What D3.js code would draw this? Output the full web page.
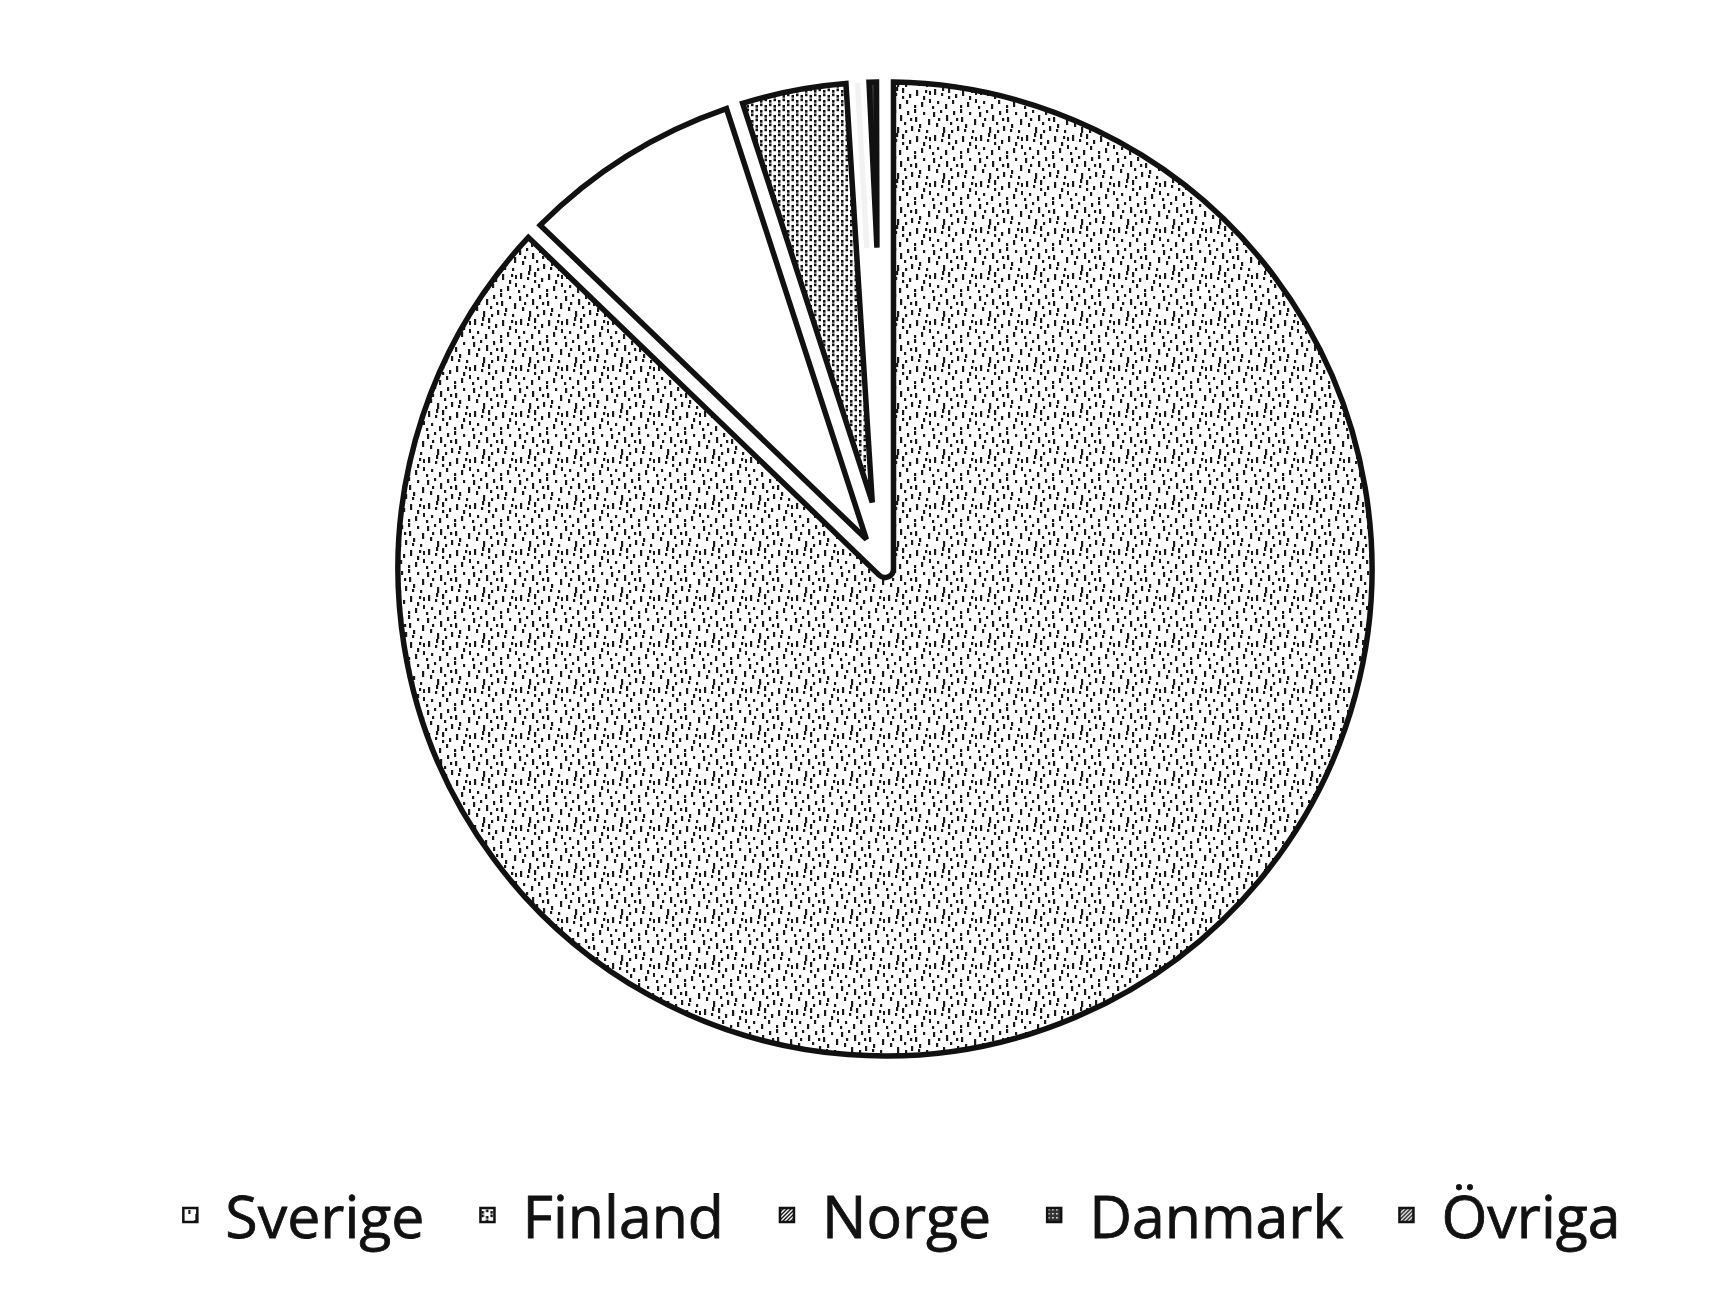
<!DOCTYPE html>
<html>
<head>
<meta charset="utf-8">
<script src="https://cdn.jsdelivr.net/npm/d3@7"></script>
<style>
  html, body { margin: 0; padding: 0; background: #fff; }
  svg { display: block; }
</style>
</head>
<body>
<svg id="chart" width="1722" height="1302"></svg>
<script>
// data
var categories = ["Sverige", "Finland", "Norge", "Danmark", "Övriga"];
var shares = [87.2, 7.8, 4.0, 0.2, 0.8];
var fills = ["url(#pSverige)", "#ffffff", "url(#pNorge)", "#ffffff", "url(#pOvriga)"];
var swatches = ["url(#pSverige)", "url(#pNorge)", "url(#pHatch)", "url(#pOvriga)", "url(#pHatch)"];
var strokes = ["#111", "#111", "#111", "#f2f2f2", "#111"];

var width = 1722, height = 1302;
var cx = 885, cy = 569, R = 487;
var gap = 17;            // white band between slices
var svg = d3.select("#chart");

// ---- fill patterns (scan-like stipple) ----
var defs = svg.append("defs");

var sv = defs.append("pattern").attr("id", "pSverige")
  .attr("patternUnits", "userSpaceOnUse").attr("width", 46).attr("height", 46);
sv.append("rect").attr("width", 46).attr("height", 46).attr("fill", "#fff");
// hand placed marks: x, y, length
var svMarks = [[2,3,5],[9,1,3],[15,6,6],[22,2,4],[30,8,5],[38,3,3],[43,10,6],
  [5,14,4],[12,18,6],[19,13,3],[26,17,5],[34,15,4],[41,21,3],[7,9,3],[29,0,4],
  [3,26,6],[10,30,3],[17,25,5],[24,31,4],[31,27,6],[38,33,4],[20,21,3],[44,28,4],
  [6,38,3],[14,41,5],[21,37,4],[29,42,3],[36,39,5],[44,36,4],[1,43,3],[33,20,3],
  [25,9,3],[11,24,4],[40,27,3],[17,33,3]];
sv.selectAll("rect.m").data(svMarks).enter().append("rect")
  .attr("class", "m")
  .attr("x", function(d){ return d[0]; })
  .attr("y", function(d){ return d[1]; })
  .attr("width", 2.2)
  .attr("height", function(d){ return d[2]; })
  .attr("fill", "#1a1a1a");

var no = defs.append("pattern").attr("id", "pNorge")
  .attr("patternUnits", "userSpaceOnUse").attr("width", 9).attr("height", 10);
no.append("rect").attr("width", 9).attr("height", 10).attr("fill", "#fff");
[[1,1],[1,4.5],[5.5,6],[5.5,9.5],[5.5,-0.5]].forEach(function(p){
  no.append("rect").attr("x", p[0]).attr("y", p[1])
    .attr("width", 2.5).attr("height", 2.7).attr("fill", "#111");
});

var ov = defs.append("pattern").attr("id", "pOvriga")
  .attr("patternUnits", "userSpaceOnUse").attr("width", 4).attr("height", 4);
ov.append("rect").attr("width", 4).attr("height", 4).attr("fill", "#333");
ov.append("rect").attr("x", 1).attr("y", 1).attr("width", 1.5).attr("height", 1.5).attr("fill", "#fff");

var ha = defs.append("pattern").attr("id", "pHatch")
  .attr("patternUnits", "userSpaceOnUse").attr("width", 4).attr("height", 4);
ha.append("rect").attr("width", 4).attr("height", 4).attr("fill", "#fff");
ha.append("path").attr("d", "M0,4L4,0M-1,1L1,-1M3,5L5,3")
  .attr("stroke", "#111").attr("stroke-width", 1.4);

// ---- pie ----
var data = categories.map(function(c, i){ return {name: c, v: shares[i], i: i}; });

var pie = d3.pie().sort(null).value(function(d){ return d.v; });
var padA = 2 * Math.asin(gap / 2 / R);

// inner radius where the two padded edges meet, so gaps stay parallel
function innerFor(d) {
  var da = Math.min(d.endAngle - d.startAngle, Math.PI);
  return Math.min((gap / 2) / Math.sin(da / 2), 0.66 * R);
}

var arc = d3.arc()
  .outerRadius(R)
  .innerRadius(innerFor)
  .padAngle(padA)
  .padRadius(R);

var g = svg.append("g").attr("transform", "translate(" + cx + "," + cy + ")");
g.selectAll("path.slice").data(pie(data)).enter().append("path")
  .attr("class", "slice")
  .attr("d", arc)
  .attr("fill", function(d){ return fills[d.data.i]; })
  .attr("stroke", function(d){ return strokes[d.data.i]; })
  .attr("stroke-width", 5.5)
  .attr("stroke-linejoin", "miter");

// ---- legend ----
var legend = svg.append("g").attr("class", "legend");
var legY = 1238;
var textOff = 42, itemGap = 56;
var items = legend.selectAll("g.item").data(categories).enter().append("g").attr("class", "item");
items.append("rect")
  .attr("x", 0).attr("y", legY - 30)
  .attr("width", 14).attr("height", 14)
  .attr("fill", function(d, i){ return swatches[i]; })
  .attr("stroke", "#111").attr("stroke-width", 2.5);
items.append("text")
  .attr("x", textOff).attr("y", legY)
  .attr("font-family", "'Open Sans', 'Noto Sans', sans-serif")
  .attr("font-size", 59)
  .attr("fill", "#111")
  .attr("stroke", "#111").attr("stroke-width", 0.8)
  .text(function(d){ return d; });

// lay items out in a row, centred under the pie
var x = 0, spans = [];
items.each(function(){
  var w = textOff + this.querySelector("text").getComputedTextLength();
  spans.push(x);
  x += w + itemGap;
});
var total = x - itemGap;
var x0 = 902 - total / 2;
items.attr("transform", function(d, i){ return "translate(" + (x0 + spans[i]) + ",0)"; });
</script>
</body>
</html>
